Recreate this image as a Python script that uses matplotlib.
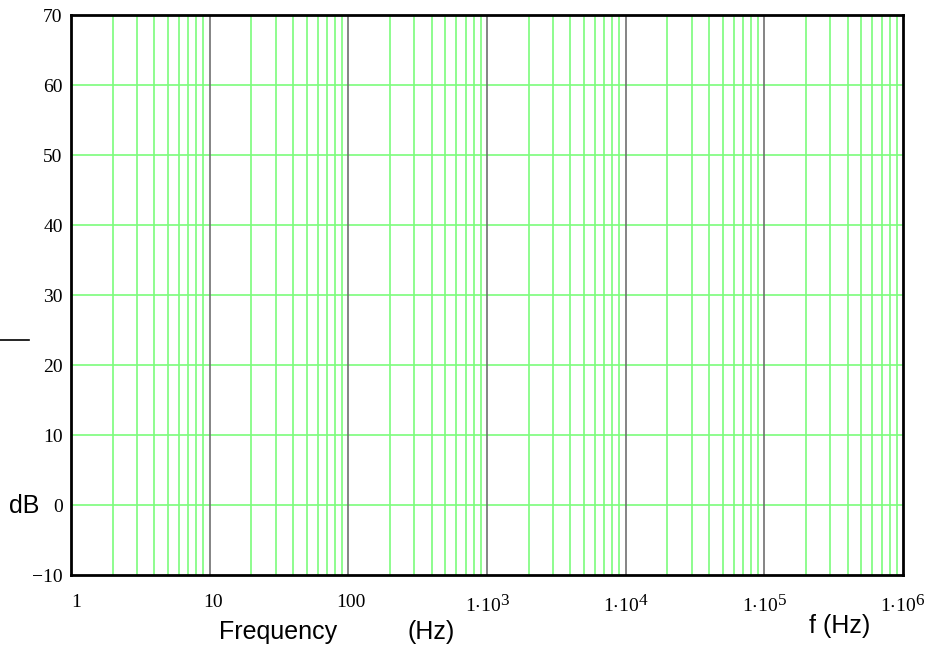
import matplotlib
matplotlib.use("Agg")
import matplotlib.pyplot as plt
import numpy as np
from matplotlib.lines import Line2D
from matplotlib.transforms import ScaledTranslation
try:
    import matplotlib._mathtext as _mt
    _mt.SHRINK_FACTOR = 0.88
except Exception:
    pass

# Data / labels
x_range = [1, 1e6]
y_range = [-10, 70]
y_ticks = [-10, 0, 10, 20, 30, 40, 50, 60, 70]
y_tick_labels = ["\u221210", "0", "10", "20", "30", "40", "50", "60", "70"]
x_ticks = [1, 10, 100, 1e3, 1e4, 1e5, 1e6]
x_tick_labels = ["1", "10", "100", r"$\mathregular{1{\cdot}10^{3}}$", r"$\mathregular{1{\cdot}10^{4}}$",
                 r"$\mathregular{1{\cdot}10^{5}}$", r"$\mathregular{1{\cdot}10^{6}}$"]
decade_lines = [10, 100, 1e3, 1e4, 1e5]
minor_mult = [2, 3, 4, 5, 6, 7, 8, 9]

green = "#7cfc7c"
serif = ["Liberation Serif", "DejaVu Serif"]
sans = ["Liberation Sans", "DejaVu Sans"]
plt.rcParams["mathtext.fontset"] = "custom"
plt.rcParams["mathtext.rm"] = "Liberation Serif"
plt.rcParams["mathtext.it"] = "Liberation Serif:italic"

fig = plt.figure(figsize=(9.26, 6.45), dpi=100)
ax = fig.add_axes([71/926, 1-575/645, (903-71)/926, (575-15)/645])
ax.set_xscale("log")
ax.set_xlim(*x_range)
ax.set_ylim(*y_range)

for d in [1, 10, 100, 1e3, 1e4, 1e5]:
    for m in minor_mult:
        ax.axvline(d*m, color=green, lw=1.2, zorder=1)
for d in decade_lines:
    ax.axvline(d, color="#707070", lw=1.2, zorder=2)
for y in y_ticks[1:-1]:
    ax.axhline(y, color=green, lw=1.2, zorder=1)

for s in ax.spines.values():
    s.set_linewidth(2)
    s.set_color("black")
    s.set_zorder(5)

ax.set_yticks(y_ticks)
ax.set_yticklabels(y_tick_labels, fontfamily=serif, fontsize=14)
ax.set_xticks(x_ticks)
ax.set_xticklabels(x_tick_labels, fontfamily=serif, fontsize=14)
ax.minorticks_off()
ax.tick_params(axis="both", length=0)
ax.tick_params(axis="x", pad=14)
ax.tick_params(axis="y", pad=6)

# small horizontal offsets of x tick labels (px)
offsets = [5, 3, 3, 0, 0, 0, 0]
for lab, dx in zip(ax.get_xticklabels(), offsets):
    lab.set_transform(lab.get_transform() + ScaledTranslation(dx/100, 0, fig.dpi_scale_trans))

fig.text(278/926, 1-639/645, "Frequency", fontfamily=sans, fontsize=18, ha="center", va="baseline")
fig.text(431/926, 1-639/645, "(Hz)", fontfamily=sans, fontsize=18, ha="center", va="baseline")
fig.text(840/926, 1-633/645, "f (Hz)", fontfamily=sans, fontsize=18, ha="center", va="baseline")
fig.text(24/926, 1-513/645, "dB", fontfamily=sans, fontsize=18, ha="center", va="baseline")
fig.add_artist(Line2D([0/926, 29/926], [1-340/645, 1-340/645], color="black", lw=1.2, transform=fig.transFigure))

fig.savefig("out.png", dpi=100)
